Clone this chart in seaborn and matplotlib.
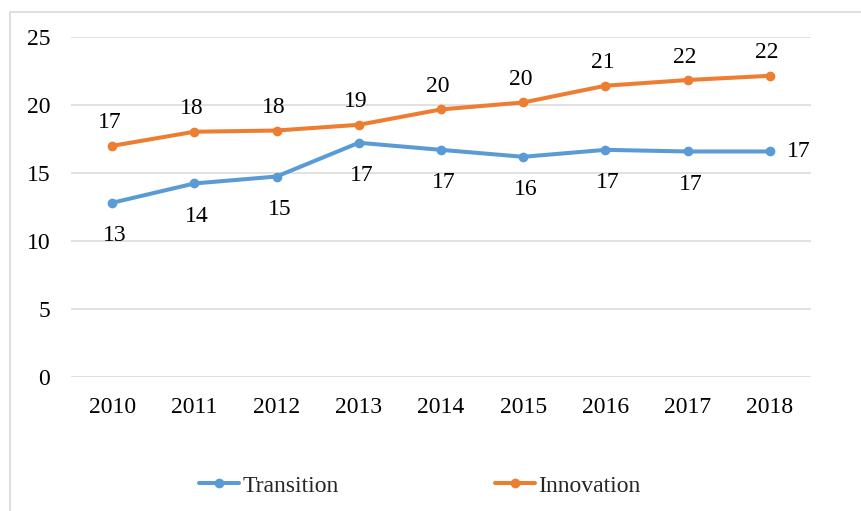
import matplotlib
matplotlib.use("Agg")
import matplotlib.pyplot as plt
import seaborn as sns
import pandas as pd
from matplotlib.patches import Rectangle
from matplotlib.lines import Line2D

years = [2010, 2011, 2012, 2013, 2014, 2015, 2016, 2017, 2018]
transition = [12.82, 14.24, 14.75, 17.23, 16.71, 16.20, 16.71, 16.59, 16.59]
innovation = [17.00, 18.04, 18.13, 18.55, 19.68, 20.19, 21.42, 21.84, 22.15]
series_names = ["Transition", "Innovation"]
colors = ["#5B9BD5", "#ED7D31"]
y_ticks = [0, 5, 10, 15, 20, 25]

df = pd.DataFrame({
    "Year": years * 2,
    "Value": transition + innovation,
    "Series": [series_names[0]] * len(years) + [series_names[1]] * len(years),
})

sns.set_theme(style="white")
plt.rcParams["font.family"] = ["Liberation Serif", "DejaVu Serif"]

FS = 17
LW = 2.9
MS = 7
W, H = 861, 511
fig = plt.figure(figsize=(W / 100, H / 100), dpi=100)
ax = fig.add_axes([71 / W, 1 - 377.3 / H, (811 - 71) / W, (377.3 - 37) / H])

sns.lineplot(data=df, x="Year", y="Value", hue="Series", palette=colors,
             marker="o", markersize=MS, markeredgewidth=0, linewidth=LW,
             ax=ax, legend=False, zorder=3)

ax.set_xlim(years[0] - 0.5, years[-1] + 0.5)
ax.set_ylim(0, 25)
ax.set_yticks(y_ticks)
ax.set_xticks(years)
ax.set_xticklabels([str(y) for y in years])
ax.set_xlabel("")
ax.set_ylabel("")
for s in ax.spines.values():
    s.set_visible(False)
ax.grid(axis="y", color="#D9D9D9", linewidth=1.1, zorder=0)
ax.grid(axis="x", visible=False)
ax.tick_params(axis="y", length=0, pad=15, labelsize=FS, colors="black")
ax.tick_params(axis="x", length=0, pad=14, labelsize=FS, colors="black")

# data labels
for i, (yr, v) in enumerate(zip(years, innovation)):
    ax.annotate(f"{round(v):d}", (yr, v), xytext=(-2, 16.5), textcoords="offset points",
                ha="center", va="center", fontsize=FS, color="black")
for i, (yr, v) in enumerate(zip(years, transition)):
    if i == len(years) - 1:
        ax.annotate(f"{round(v):d}", (yr, v), xytext=(12, 0), textcoords="offset points",
                    ha="left", va="center", fontsize=FS, color="black")
    else:
        ax.annotate(f"{round(v):d}", (yr, v), xytext=(2, -23.5), textcoords="offset points",
                    ha="center", va="center", fontsize=FS, color="black")

# legend
handles = [Line2D([0], [0], color=c, lw=LW, marker="o", markersize=MS, markeredgewidth=0)
           for c in colors]
fig.legend(handles, series_names, loc="center", bbox_to_anchor=(420 / W, 1 - 486 / H),
           ncol=2, frameon=False, fontsize=FS, handlelength=1.7, handletextpad=0.15,
           columnspacing=6.6)

# chart border (Excel chart area)
fig.patches.append(Rectangle((10 / W, -0.1), 2, 1 - 12 / H + 0.1, transform=fig.transFigure,
                             fill=False, edgecolor="#D9D9D9", linewidth=1.2))

fig.savefig("out.png", dpi=100, facecolor="white")
